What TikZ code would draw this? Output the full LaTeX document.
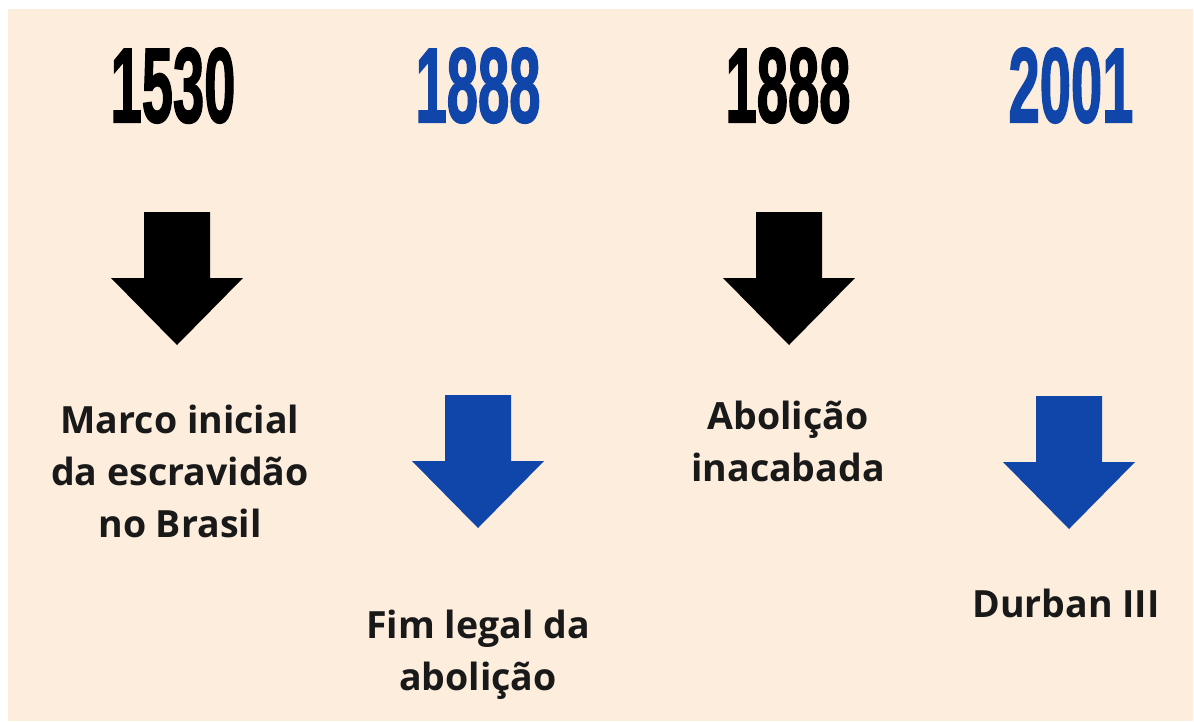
\documentclass[tikz,border=0pt]{standalone}
\usepackage{fontspec}
\setmainfont{Open Sans}
\newfontfamily\yearfont[FakeBold=2]{Liberation Sans}
\definecolor{peach}{RGB}{253,237,221}
\definecolor{azul}{RGB}{16,70,170}
\definecolor{txt}{RGB}{25,25,25}
\begin{document}
\begin{tikzpicture}[x=1pt,y=-1pt,
	year/.style={inner sep=0pt,anchor=base,font=\yearfont\bfseries\fontsize{106}{106}\selectfont},
	lbl/.style={inner sep=0pt,anchor=base,align=center,text=txt,font=\bfseries\fontsize{37.5}{52}\selectfont}]
			\def\seta(#1,#2)#3{\fill[#3] (#1-33,#2) -- (#1+33,#2) -- (#1+33,#2+66) -- (#1+66,#2+66) -- (#1,#2+133) -- (#1-66,#2+66) -- (#1-33,#2+66) -- cycle;}
			\useasboundingbox (0,0) rectangle (1194,721);
			\fill[peach] (8,9) rectangle (1193,721);
			% anos
			\node[year] (ano1) at (173,122) {\scalebox{0.53}[1]{1530}};
			\node[year,text=azul] (ano2) at (478,122) {\scalebox{0.53}[1]{1888}};
			\node[year] (ano3) at (788,122) {\scalebox{0.53}[1]{1888}};
			\node[year,text=azul] (ano4) at (1071,122) {\scalebox{0.53}[1]{2001}};
			% setas
			\seta(177,212){black}
			\seta(478,395){azul}
			\seta(789,212){black}
			\seta(1069,396){azul}
			% textos (base = ultima linha)
			\node[lbl] (txt1) at (180,537) {Marco inicial\\da escravidão\\no Brasil};
			\node[lbl] (txt2) at (478,690) {Fim legal da\\abolição};
			\node[lbl] (txt3) at (788,481) {Abolição\\inacabada};
			\node[lbl] (txt4) at (1066,617) {Durban III};
\end{tikzpicture}
\end{document}
